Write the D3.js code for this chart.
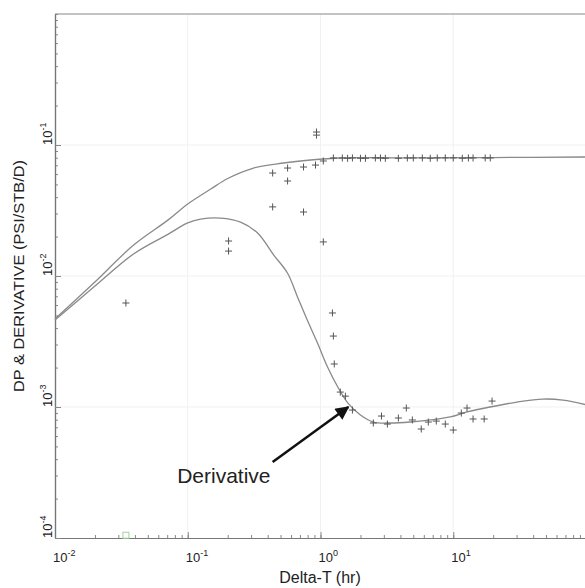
<!DOCTYPE html>
<html>
<head>
<meta charset="utf-8">
<script src="https://cdn.jsdelivr.net/npm/d3@7"></script>
<style>
  body { margin: 0; background: #fff; }
  svg { display: block; }
  text { font-family: "Liberation Sans", Arial, sans-serif; }
</style>
</head>
<body>
<svg id="chart" width="585" height="588"></svg>
<script>
// model pressure curve (DP)
const dpCurveT = [0.01, 0.0196, 0.0393, 0.0708, 0.1, 0.149, 0.2, 0.313, 0.527, 0.841, 1.41, 4.0, 20, 100];
const dpCurveV = [0.0047, 0.00884, 0.0173, 0.0267, 0.0355, 0.0461, 0.0555, 0.0667, 0.0729, 0.0768, 0.0796, 0.0798, 0.0802, 0.081];

// model derivative curve
const derivCurveT = [0.01, 0.0196, 0.0393, 0.0708, 0.1, 0.125, 0.177, 0.25, 0.336, 0.443, 0.565, 0.671, 0.795,
  0.949, 1.13, 1.35, 1.61, 2.0, 2.5, 3.36, 4.75, 6.71, 9.49, 12.7, 18.9, 30.2, 47.3, 67.1, 100];
const derivCurveV = [0.00461, 0.00824, 0.0148, 0.0208, 0.0254, 0.0272, 0.0277, 0.0258, 0.0213, 0.0145, 0.0105, 0.00692, 0.00461,
  0.00308, 0.00202, 0.00142, 0.00107, 0.000869, 0.000768, 0.000755, 0.000768, 0.000796, 0.000839, 0.000916, 0.001, 0.00109, 0.00115, 0.00113, 0.00104];

// measured DP points
const dpPointT = [0.436, 0.436, 0.565, 0.565, 0.745, 0.745, 0.917, 0.933, 0.933, 1.05, 1.25,
  1.46, 1.6, 1.74, 2.0, 2.18, 2.59, 2.83, 3.08, 3.86, 4.51, 5.0, 5.85, 6.71, 7.58, 8.71, 10.0, 11.7, 13.0, 14.1, 17.4, 19.0];
const dpPointV = [0.0611, 0.0337, 0.0667, 0.0531, 0.0679, 0.0308, 0.0703, 0.1256, 0.119, 0.0755, 0.0796,
  0.0796, 0.0792, 0.0796, 0.0792, 0.0792, 0.0796, 0.0796, 0.0792, 0.0792, 0.0796, 0.0796, 0.0796, 0.0792, 0.0796, 0.0796, 0.0796, 0.0792, 0.0796, 0.0796, 0.0796, 0.0796];

// measured derivative points
const derivPointT = [0.0342, 0.203, 0.203, 1.05, 1.23, 1.25, 1.27, 1.41, 1.54, 1.74, 2.5, 2.88, 3.19, 3.86, 4.43, 4.92,
  5.74, 6.49, 7.45, 8.71, 10.0, 11.5, 12.7, 14.1, 17.1, 19.6];
const derivPointV = [0.00622, 0.0185, 0.0155, 0.0182, 0.00522, 0.00348, 0.00213, 0.0013, 0.00121, 0.000948, 0.000755, 0.000853,
  0.000741, 0.000824, 0.000982, 0.000796, 0.000679, 0.000768, 0.000781, 0.000741, 0.000667, 0.000899, 0.000982, 0.00081, 0.00081, 0.00111];

// stray square marker near the bottom
const squareT = [0.0342];
const squareV = [0.000105];

const xTickExp = [-2, -1, 0, 1];
const yTickExp = [-4, -3, -2, -1];

let svg = d3.select("#chart");

let x = d3.scaleLog().domain([1e-2, 1e2]).range([55, 586]);
let y = d3.scaleLog().domain([1e-4, 1]).range([538, 14]);

// faint grid at decades
svg.append("g").selectAll("line")
    .data(xTickExp.map(e => Math.pow(10, e)).slice(1))
    .enter().append("line")
    .attr("x1", d => x(d)).attr("x2", d => x(d))
    .attr("y1", y(1)).attr("y2", y(1e-4))
    .style("stroke", "#f1f1f1");
svg.append("g").selectAll("line")
    .data(yTickExp.map(e => Math.pow(10, e)).slice(1))
    .enter().append("line")
    .attr("x1", x(1e-2)).attr("x2", 586)
    .attr("y1", d => y(d)).attr("y2", d => y(d))
    .style("stroke", "#f1f1f1");

// frame
svg.append("line")
    .attr("x1", x(1e-2)).attr("x2", 586)
    .attr("y1", y(1)).attr("y2", y(1))
    .style("stroke", "#888").style("stroke-width", 1.2);

// minor + major ticks, pointing inward
function styleAxis(g) {
    g.selectAll(".domain").style("stroke", "#777").style("stroke-width", 1.2);
    g.selectAll(".tick line").style("stroke", "#888");
    g.selectAll(".tick text").remove();
}
svg.append("g")
    .attr("transform", `translate(0,${y(1e-4)})`)
    .call(d3.axisBottom(x).tickValues(x.ticks()).tickSize(-3).tickSizeOuter(0))
    .call(styleAxis);
svg.append("g")
    .attr("transform", `translate(0,${y(1e-4)})`)
    .call(d3.axisBottom(x).tickValues(xTickExp.map(e => Math.pow(10, e))).tickSize(-6).tickSizeOuter(0))
    .call(styleAxis);
svg.append("g")
    .attr("transform", `translate(${x(1e-2)},0)`)
    .call(d3.axisLeft(y).tickValues(y.ticks()).tickSize(-3).tickSizeOuter(0))
    .call(styleAxis);
svg.append("g")
    .attr("transform", `translate(${x(1e-2)},0)`)
    .call(d3.axisLeft(y).tickValues(yTickExp.map(e => Math.pow(10, e))).tickSize(-6).tickSizeOuter(0))
    .call(styleAxis);

// tick labels with exponents
xTickExp.forEach(e => {
    let t = svg.append("text")
        .attr("x", x(Math.pow(10, e)) - 2)
        .attr("y", 562)
        .style("font-size", "13px")
        .style("fill", "#222");
    t.append("tspan").text("10");
    t.append("tspan").attr("dy", -6).style("font-size", "9px").text(e);
});
yTickExp.forEach(e => {
    let t = svg.append("text")
        .attr("transform", `translate(52,${y(Math.pow(10, e))}) rotate(-90)`)
        .style("font-size", "13px")
        .style("fill", "#222");
    t.append("tspan").text("10");
    t.append("tspan").attr("dy", -6).style("font-size", "9px").text(e);
});

// axis titles
svg.append("text")
    .attr("x", 320)
    .attr("y", 583)
    .attr("text-anchor", "middle")
    .style("font-size", "16px")
    .style("fill", "#222")
    .text("Delta-T (hr)");

svg.append("text")
    .attr("transform", "translate(24,276) rotate(-90)")
    .attr("text-anchor", "middle")
    .attr("textLength", 232)
    .attr("lengthAdjust", "spacingAndGlyphs")
    .style("font-size", "15px")
    .style("fill", "#222")
    .text("DP & DERIVATIVE (PSI/STB/D)");

// model curves
let line = d3.line()
    .x(d => x(d[0]))
    .y(d => y(d[1]))
    .curve(d3.curveCatmullRom);

svg.append("path")
    .datum(d3.zip(dpCurveT, dpCurveV))
    .attr("d", line)
    .style("fill", "none")
    .style("stroke", "#8a8a8a")
    .style("stroke-width", 1.3);

svg.append("path")
    .datum(d3.zip(derivCurveT, derivCurveV))
    .attr("d", line)
    .style("fill", "none")
    .style("stroke", "#8a8a8a")
    .style("stroke-width", 1.3);

// measured points as plus signs
function drawPlus(ts, vs) {
    svg.append("g").selectAll("path")
        .data(d3.zip(ts, vs))
        .enter().append("path")
        .attr("transform", d => `translate(${x(d[0])},${y(d[1])})`)
        .attr("d", "M-3.5,0H3.5M0,-3.5V3.5")
        .style("fill", "none")
        .style("stroke", "#555")
        .style("stroke-width", 1);
}
drawPlus(dpPointT, dpPointV);
drawPlus(derivPointT, derivPointV);

svg.append("g").selectAll("rect")
    .data(d3.zip(squareT, squareV))
    .enter().append("rect")
    .attr("x", d => x(d[0]) - 3)
    .attr("y", d => y(d[1]) - 3)
    .attr("width", 6)
    .attr("height", 6)
    .style("fill", "none")
    .style("stroke", "#9fd39f")
    .style("stroke-width", 1);

// annotation
const arrowFrom = [0.436, 0.00038];
const arrowTo = [1.62, 0.001];
const labelAt = [0.187, 0.000263];

svg.append("defs").append("marker")
    .attr("id", "head")
    .attr("viewBox", "0 0 10 10")
    .attr("refX", 9)
    .attr("refY", 5)
    .attr("markerWidth", 6)
    .attr("markerHeight", 5.5)
    .attr("orient", "auto")
    .append("path")
    .attr("d", "M0,0L10,5L0,10Z")
    .style("fill", "#111");

svg.append("line")
    .attr("x1", x(arrowFrom[0])).attr("y1", y(arrowFrom[1]))
    .attr("x2", x(arrowTo[0])).attr("y2", y(arrowTo[1]))
    .attr("marker-end", "url(#head)")
    .style("stroke", "#111")
    .style("stroke-width", 2.5);

svg.append("text")
    .attr("x", x(labelAt[0]))
    .attr("y", y(labelAt[1]))
    .attr("text-anchor", "middle")
    .style("font-size", "21px")
    .style("fill", "#222")
    .text("Derivative");
</script>
</body>
</html>
